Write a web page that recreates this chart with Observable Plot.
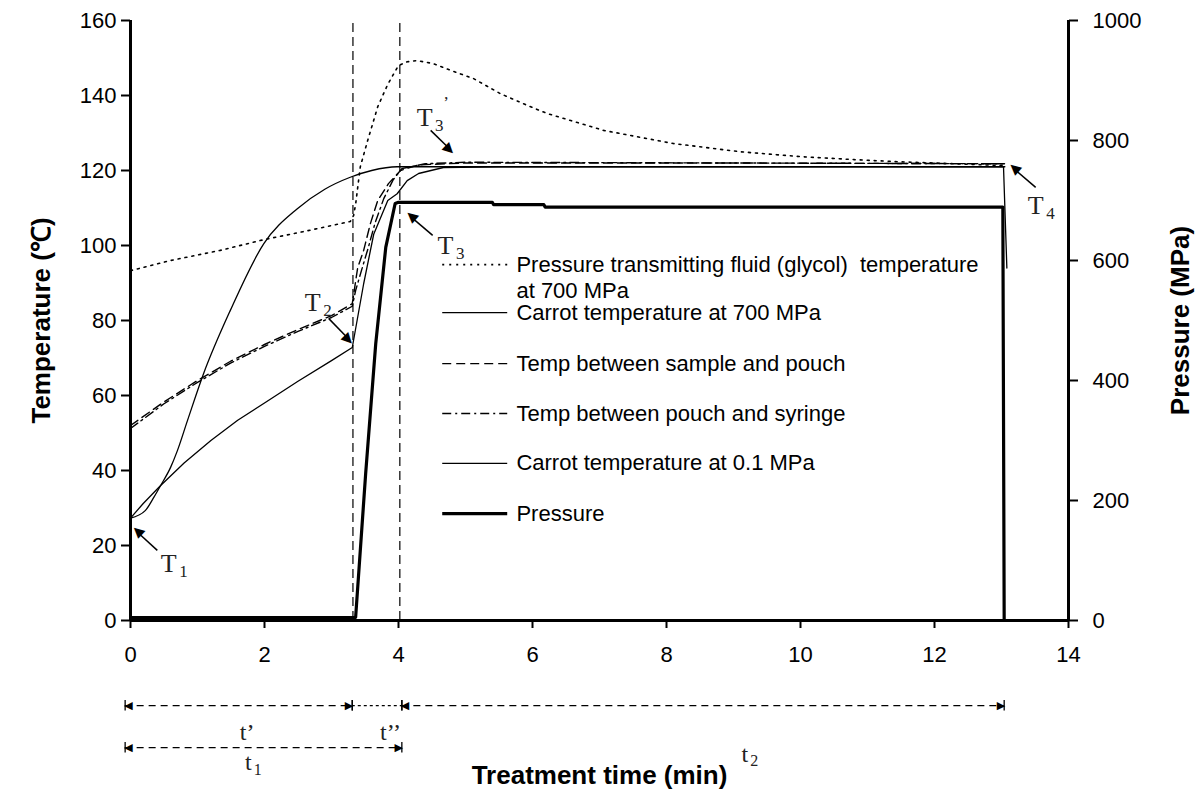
<!DOCTYPE html>
<html><head><meta charset="utf-8">
<script src="https://cdn.jsdelivr.net/npm/d3@7"></script>
<script src="https://cdn.jsdelivr.net/npm/@observablehq/plot@0.6"></script>
<style>body{margin:0;background:#fff}</style>
</head><body><div id="chart"></div>
<script>
// ---- Data (time in min, temperature in °C, pressure in MPa) ----
const glycolTime = [0,0.6,1.34,2.0,2.58,3.28,3.33,3.36,3.43,3.54,3.69,3.84,4.0,4.13,4.28,4.52,4.78,5.12,5.52,5.93,6.22,7.06,8.1,9.1,10.0,10.8,11.5,12.3,13.05];
const glycolTemp = [93.3,96,98.7,101.6,103.7,106.4,108,111,121,128,137,143,148,149,149.3,148.5,146.7,144.5,140.5,137.3,135.2,130.7,127.2,125,123.7,122.9,122.3,121.8,121.3];

const carrot700Time = [0,0.19,0.45,0.8,1.2,1.6,2.0,2.5,3.0,3.31,3.48,3.63,3.84,3.98,4.13,4.3,4.67,5.5,13.03,13.08];
const carrot700Temp = [27.3,31.2,36,42,48,53.4,58,63.8,69.3,72.8,89.8,103,112,113.8,117.3,119.2,120.8,121,121,94];

const samplePouchTime = [0,0.5,1.0,1.5,2.0,2.5,3.0,3.31,3.39,3.48,3.58,3.69,3.85,4.03,4.3,5,9,13.05];
const samplePouchTemp = [52,58.3,64,69.2,73.6,77.6,81.3,84.5,94,98.7,105.8,112,116.5,120,121.5,122,122,121.8];

const pouchSyringeTime = [0,0.5,1.0,1.5,2.0,2.5,3.0,3.31,3.36,3.45,3.55,3.65,3.78,3.92,4.05,4.4,5,13.05];
const pouchSyringeTemp = [51.2,57.8,63.5,68.7,73.1,77.1,80.8,83.8,88,93.5,99.5,106,112.5,117.5,120.5,121.8,122.2,121.8];

const carrot01Time = [0,0.22,0.35,0.45,0.6,0.7,0.85,1.09,1.49,1.99,2.49,2.9,3.28,3.6,3.98,13.05];
const carrot01Temp = [27.3,29.3,32.9,36,40.9,45.3,53.3,65.8,82.7,100.5,109.8,115,118.2,120,121,121];

const pressureTime = [0,3.36,3.51,3.66,3.81,3.95,4.0,5.4,5.42,6.17,6.19,13.02,13.04];
const pressureMPa = [5,5,245,461,622,695,697,697,693,693,689,689,0];

const xTicks = [0,2,4,6,8,10,12,14];
const tempTicks = [0,20,40,60,80,100,120,140,160];
const pressureTicks = [0,200,400,600,800,1000];
const phaseLines = [3.32, 4.02];

const legendLabels = [
  "Pressure transmitting fluid (glycol)\u00a0 temperature",
  "Carrot temperature at 700 MPa",
  "Temp between sample and pouch",
  "Temp between pouch and syringe",
  "Carrot temperature at 0.1 MPa",
  "Pressure"
];

// ---- helpers ----
const W = 1197, H = 790, ML = 130, MR = 129, MT = 20, MB = 170;
const kx = (W - ML - MR) / 14, ky = (H - MT - MB) / 160; // px per unit (for arrow-head angles)
const P2T = 160 / 1000; // pressure -> temperature axis
const rows = (ts, vs) => ts.map((t, i) => ({t, v: vs[i]}));
const glycol = rows(glycolTime, glycolTemp);
const carrot700 = rows(carrot700Time, carrot700Temp);
const samplePouch = rows(samplePouchTime, samplePouchTemp);
const pouchSyringe = rows(pouchSyringeTime, pouchSyringeTemp);
const carrot01 = rows(carrot01Time, carrot01Temp);
const pressure = rows(pressureTime, pressureMPa);

const styles = [
  {strokeDasharray: "2,5", strokeWidth: 1.6},
  {strokeWidth: 1.3},
  {strokeDasharray: "9,5", strokeWidth: 1.4},
  {strokeDasharray: "9,4,2,4", strokeWidth: 1.4},
  {strokeWidth: 1.3},
  {strokeWidth: 3.2}
];

const serif = "'Liberation Serif', 'Times New Roman', serif";
const sans = "'Liberation Sans', Arial, sans-serif";

function tLabel(x, y, sub, extra) {
  const m = [
    Plot.text(["T"], {x, y, text: d => d, fontFamily: serif, fontSize: 26, fill: "#222"}),
    Plot.text([sub], {x: x + 0.22, y: y - 2.2, text: d => d, fontFamily: serif, fontSize: 17, fill: "#222"})
  ];
  if (extra) m.push(Plot.text(["’"], {x: x + 0.32, y: y + 4, text: d => d, fontFamily: serif, fontSize: 17, fill: "#222"}));
  return m;
}
// arrow with a filled head: shaft + rotated triangle glyph
function annArrow(x1, y1, x2, y2) {
  const dxp = (x2 - x1) * kx, dyp = -(y2 - y1) * ky;
  const len = Math.hypot(dxp, dyp);
  const ang = Math.atan2(dyp, dxp) * 180 / Math.PI;
  const back = 5 / len;
  const hx = x2 - (x2 - x1) * back, hy = y2 - (y2 - y1) * back;
  const sx = x2 - (x2 - x1) * (8 / len), sy = y2 - (y2 - y1) * (8 / len);
  return [
    Plot.link([0], {x1, y1, x2: sx, y2: sy, stroke: "black", strokeWidth: 1.5}),
    Plot.text(["▶"], {x: hx, y: hy, text: d => d, rotate: ang, fontFamily: "DejaVu Sans", fontSize: 14, fill: "black", textAnchor: "middle", lineAnchor: "middle"})
  ];
}

// legend positions (in chart units)
const legX1 = 4.66, legX2 = 5.63, legTX = 5.76;
const legY = [94.9, 82.1, 68.5, 55.2, 41.9, 28.5];

// bottom span annotations
const row1 = -22.7, row2 = -33.9;
function span(x1, x2, y, dash, heads) {
  const m = [Plot.ruleY([y], {x1, x2, stroke: "black", strokeWidth: 1.3, strokeDasharray: dash})];
  m.push(Plot.ruleX([x1, x2], {x: d => d, y1: y - 1.4, y2: y + 1.4, stroke: "black", strokeWidth: 1.3}));
  if (heads) {
    m.push(Plot.text(["◀"], {x: x1, y, text: d => d, textAnchor: "start", dx: -1, fontSize: 11, fontFamily: "DejaVu Sans", fill: "black"}));
    m.push(Plot.text(["▶"], {x: x2, y, text: d => d, textAnchor: "end", dx: 1, fontSize: 11, fontFamily: "DejaVu Sans", fill: "black"}));
  }
  return m;
}

const chart = Plot.plot({
  width: W,
  height: H,
  marginTop: MT,
  marginLeft: ML,
  marginRight: MR,
  marginBottom: MB,
  x: {domain: [0, 14]},
  y: {domain: [0, 160]},
  style: {fontFamily: sans, fontSize: "22px", color: "black", background: "white", overflow: "visible"},
  marks: [
    // phase boundaries
    Plot.ruleX(phaseLines, {x: d => d, y1: 0, y2: 160, stroke: "black", strokeWidth: 1.2, strokeDasharray: "9,5"}),
    // series
    Plot.line(glycol, {x: "t", y: "v", stroke: "black", ...styles[0]}),
    Plot.line(carrot700, {x: "t", y: "v", stroke: "black", ...styles[1]}),
    Plot.line(samplePouch, {x: "t", y: "v", stroke: "black", ...styles[2]}),
    Plot.line(pouchSyringe, {x: "t", y: "v", stroke: "black", ...styles[3]}),
    Plot.line(carrot01, {x: "t", y: "v", stroke: "black", curve: "monotone-x", ...styles[4]}),
    Plot.line(pressure, {x: "t", y: d => d.v * P2T, stroke: "black", ...styles[5]}),
    // axes
    Plot.ruleX([0, 14], {x: d => d, stroke: "black", strokeWidth: 3}),
    Plot.ruleY([0], {stroke: "black", strokeWidth: 3}),
    Plot.axisX({ticks: xTicks, tickSize: 8, tickPadding: 18, label: null, strokeWidth: 2, tickFormat: d => String(d)}),
    Plot.axisY({anchor: "left", ticks: tempTicks, tickSize: 9, tickPadding: 5, label: null, strokeWidth: 2, tickFormat: d => String(d)}),
    Plot.axisY({anchor: "right", ticks: pressureTicks.map(p => p * P2T), tickFormat: d => String(Math.round(d / P2T)), tickSize: 9, tickPadding: 15, label: null, strokeWidth: 2}),
    // axis titles
    Plot.text(["Temperature (℃)"], {x: -1.32, y: 80, text: d => d, rotate: -90, fontWeight: "bold", fontSize: 26, fill: "black"}),
    Plot.text(["Pressure (MPa)"], {x: 15.67, y: 80, text: d => d, rotate: -90, fontWeight: "bold", fontSize: 26, fill: "black"}),
    Plot.text(["Treatment time (min)"], {x: 7.0, y: -41.3, text: d => d, fontWeight: "bold", fontSize: 26, fill: "black"}),
    // legend
    ...legendLabels.map((lab, i) => Plot.ruleY([legY[i]], {x1: legX1, x2: legX2, stroke: "black", ...styles[i]})),
    ...legendLabels.map((lab, i) => Plot.text([lab], {x: legTX, y: legY[i], text: d => d, textAnchor: "start", fontSize: 22, fill: "black"})),
    Plot.text(["at 700 MPa"], {x: legTX, y: 87.9, text: d => d, textAnchor: "start", fontSize: 22, fill: "black"}),
    // point annotations
    ...tLabel(0.57, 15.2, "1"),
    ...annArrow(0.40, 18.7, 0.045, 24.5),
    ...tLabel(2.72, 84.8, "2"),
    ...annArrow(2.96, 80.5, 3.31, 74.1),
    ...tLabel(4.39, 134.1, "3", true),
    ...annArrow(4.48, 130.7, 4.82, 124.8),
    ...tLabel(4.70, 100, "3"),
    ...annArrow(4.51, 102.7, 4.13, 108.5),
    ...tLabel(13.51, 110.7, "4"),
    ...annArrow(13.51, 115.5, 13.13, 121.3),
    // time spans under the axis
    ...span(-0.08, 3.31, row1, "7,5", true),
    ...span(3.31, 4.05, row1, "3,3", false),
    ...span(4.05, 13.04, row1, "7,5", true),
    ...span(-0.08, 4.05, row2, "7,5", true),
    Plot.text(["t’"], {x: 1.74, y: -29.9, text: d => d, fontFamily: serif, fontSize: 24, fill: "#222"}),
    Plot.text(["t’’"], {x: 3.88, y: -29.9, text: d => d, fontFamily: serif, fontSize: 24, fill: "#222"}),
    Plot.text(["t"], {x: 1.76, y: -37.8, text: d => d, fontFamily: serif, fontSize: 24, fill: "#222"}),
    Plot.text(["1"], {x: 1.9, y: -39.7, text: d => d, fontFamily: serif, fontSize: 16, fill: "#222"}),
    Plot.text(["t"], {x: 9.17, y: -35.6, text: d => d, fontFamily: serif, fontSize: 24, fill: "#222"}),
    Plot.text(["2"], {x: 9.31, y: -37.5, text: d => d, fontFamily: serif, fontSize: 16, fill: "#222"})
  ]
});
document.getElementById("chart").appendChild(chart);
</script>
</body></html>
